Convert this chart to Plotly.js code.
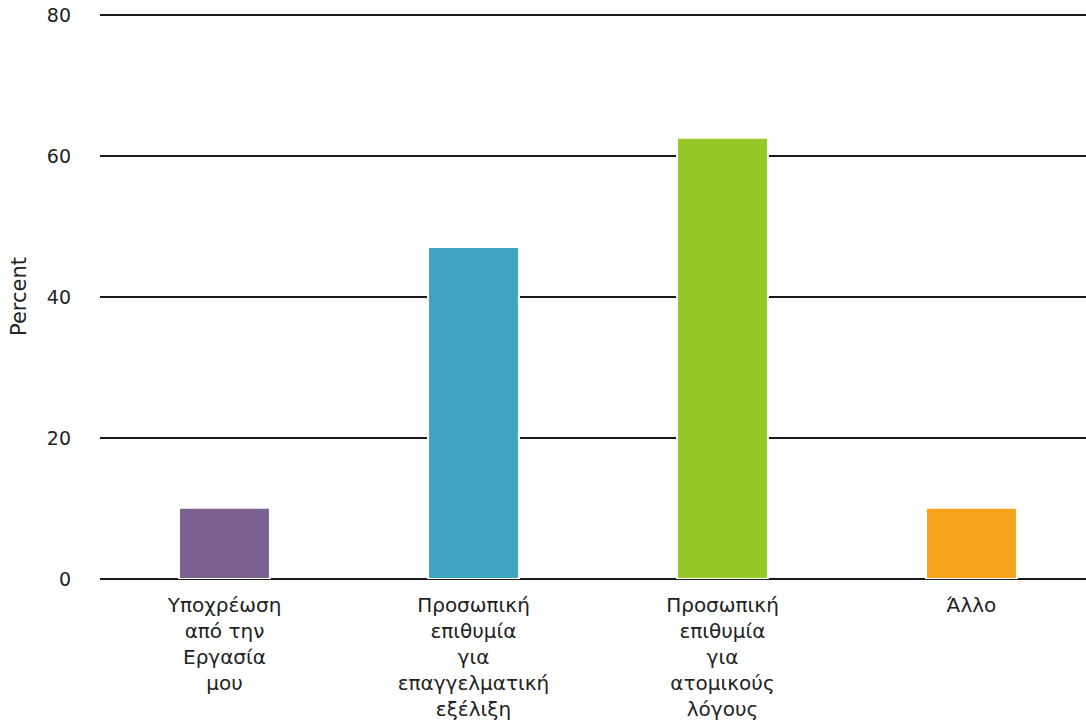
<!DOCTYPE html>
<html>
<head>
<meta charset="utf-8">
<script src="https://cdn.plot.ly/plotly-3.0.1.min.js"></script>
<style>html,body{margin:0;padding:0;background:#fff;}#chart{width:1086px;height:727px;}</style>
</head>
<body>
<div id="chart"></div>
<script>
const categories = [
  "Υποχρέωση<br>από την<br>Εργασία<br>μου",
  "Προσωπική<br>επιθυμία<br>για<br>επαγγελματική<br>εξέλιξη",
  "Προσωπική<br>επιθυμία<br>για<br>ατομικούς<br>λόγους",
  "Άλλο"
];
const values = [10.1, 47.1, 62.6, 10.1];
const colors = ["#7c6190", "#40a3c2", "#96c828", "#f4a31a"];
const yTicks = [0, 20, 40, 60, 80];

const trace = {
  type: "bar",
  x: categories,
  y: values,
  width: 0.365,
  marker: { color: colors, line: { color: "#ffffff", width: 2 } },
  hoverinfo: "none"
};

const layout = {
  width: 1086,
  height: 727,
  margin: { l: 100, r: 0, t: 14, b: 148 },
  paper_bgcolor: "#fff",
  plot_bgcolor: "#fff",
  font: { family: "DejaVu Sans, sans-serif", size: 19, color: "#222" },
  showlegend: false,
  xaxis: {
    type: "category",
    range: [-0.5, 3.46],
    showgrid: false,
    showline: false,
    zeroline: false,
    ticks: "",
    tickfont: { size: 20, color: "#222" },
    ticklabelstandoff: 12
  },
  yaxis: {
    range: [0, 80.15],
    tickvals: yTicks,
    ticktext: yTicks.map(String),
    showgrid: true,
    gridcolor: "#1a1a1a",
    gridwidth: 2,
    zeroline: true,
    zerolinecolor: "#1a1a1a",
    zerolinewidth: 2,
    showline: false,
    ticks: "",
    ticklabelstandoff: 28,
    tickfont: { size: 19, color: "#222" },
    title: { text: "Percent", font: { size: 21, color: "#222" }, standoff: 14 }
  }
};

Plotly.newPlot("chart", [trace], layout, { displayModeBar: false, staticPlot: true });
</script>
</body>
</html>
